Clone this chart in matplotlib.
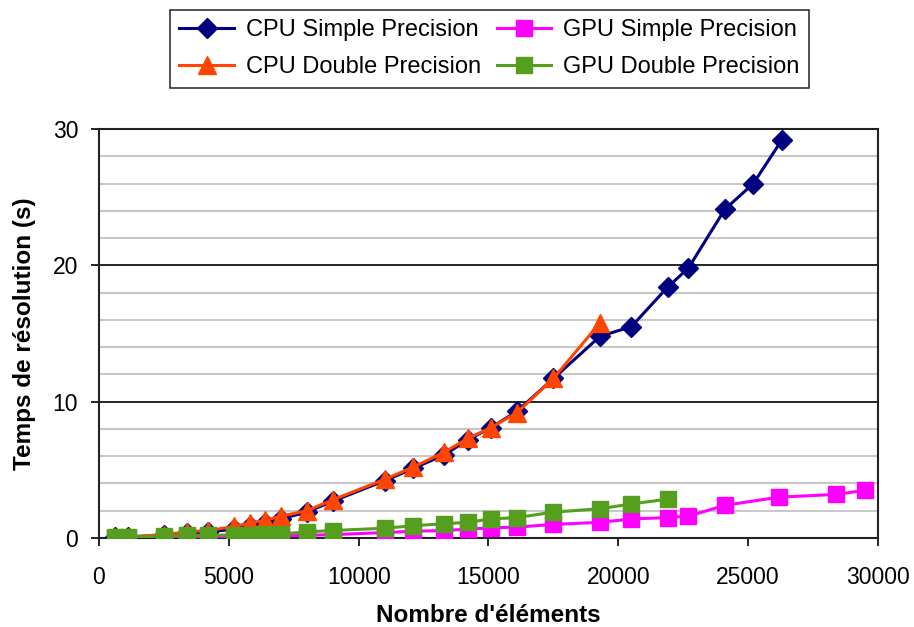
import matplotlib
matplotlib.use("Agg")
import matplotlib.pyplot as plt
from matplotlib.ticker import MultipleLocator

plt.rcParams['font.family'] = ['Liberation Sans', 'DejaVu Sans']

# nombre d'elements
n_cpu = [600, 1100, 2500, 3400, 4200, 5200, 5800, 6400, 7000, 8000, 9000,
         11000, 12100, 13300, 14200, 15100, 16100, 17500, 19300, 20500,
         21900, 22700, 24100, 25200, 26300]
n_cpu_dp = n_cpu[:19]
n_gpu = [600, 1100, 2500, 3400, 4200, 5200, 5800, 6400, 7000, 8000, 9000,
         11000, 12100, 13300, 14200, 15100, 16100, 17500, 19300, 20500,
         21900, 22700, 24100, 26200, 28400, 29500]
n_gpu_dp = n_gpu[:21]

# temps (s)
cpu_sp = [0.05, 0.08, 0.2, 0.35, 0.45, 0.65, 0.9, 1.1, 1.4, 1.9, 2.7,
          4.2, 5.1, 6.1, 7.2, 8.1, 9.3, 11.7, 14.8, 15.5,
          18.4, 19.8, 24.1, 26.0, 29.2]
cpu_dp = [0.05, 0.08, 0.25, 0.45, 0.55, 0.85, 1.1, 1.3, 1.6, 2.0, 2.8,
          4.3, 5.2, 6.3, 7.3, 8.1, 9.2, 11.7, 15.8]
gpu_sp = [0.02, 0.02, 0.03, 0.05, 0.06, 0.08, 0.1, 0.12, 0.15, 0.2, 0.25,
          0.4, 0.5, 0.55, 0.65, 0.75, 0.8, 1.0, 1.15, 1.4,
          1.5, 1.6, 2.4, 3.0, 3.2, 3.5]
gpu_dp = [0.1, 0.1, 0.12, 0.2, 0.2, 0.22, 0.25, 0.27, 0.3, 0.45, 0.55,
          0.72, 0.9, 1.05, 1.15, 1.4, 1.5, 1.9, 2.15, 2.5, 2.85]

fig = plt.figure(figsize=(9.14, 6.27), dpi=100)
ax = fig.add_axes([0.1083, 0.1419, 0.8523, 0.6524])

lw = 2.2
ax.plot(n_cpu, cpu_sp, color='#000080', marker='D', ms=10, lw=lw,
        label='CPU Simple Precision', zorder=3)
ax.plot(n_cpu_dp, cpu_dp, color='#FF4500', marker='^', ms=13, lw=lw,
        label='CPU Double Precision', zorder=4)
ax.plot(n_gpu, gpu_sp, color='#FF00FF', marker='s', ms=11, lw=lw,
        label='GPU Simple Precision', zorder=5)
ax.plot(n_gpu_dp, gpu_dp, color='#559E1E', marker='s', ms=11, lw=lw,
        label='GPU Double Precision', zorder=6)

ax.set_xlim(0, 30000)
ax.set_ylim(0, 30)
ax.xaxis.set_major_locator(MultipleLocator(5000))
ax.yaxis.set_major_locator(MultipleLocator(10))
ax.yaxis.set_minor_locator(MultipleLocator(2))

ax.grid(axis='y', which='minor', color='#c8c8c8', lw=1.5, zorder=0)
ax.grid(axis='y', which='major', color='black', lw=1.2, zorder=1)
ax.tick_params(axis='y', which='minor', length=0)
ax.tick_params(axis='both', which='major', direction='out', length=6,
               width=1.2, labelsize=16.5)
ax.tick_params(axis='x', pad=14)
ax.tick_params(axis='y', pad=9)

for s in ax.spines.values():
    s.set_color('#222222')
    s.set_linewidth(1.5)

ax.set_xlabel("Nombre d'éléments", fontsize=17.5, fontweight='bold', labelpad=11)
ax.set_ylabel("Temps de résolution (s)", fontsize=17.5, fontweight='bold', labelpad=12)

leg = fig.legend(loc='upper center', bbox_to_anchor=(0.5356, 0.984), ncol=2,
                 fontsize=17, frameon=True, fancybox=False, edgecolor='black',
                 handlelength=2.3, columnspacing=0.7, handletextpad=0.5,
                 borderpad=0.4, labelspacing=0.62, borderaxespad=0)
leg.get_frame().set_linewidth(1.2)

fig.savefig('out.png', dpi=100)
